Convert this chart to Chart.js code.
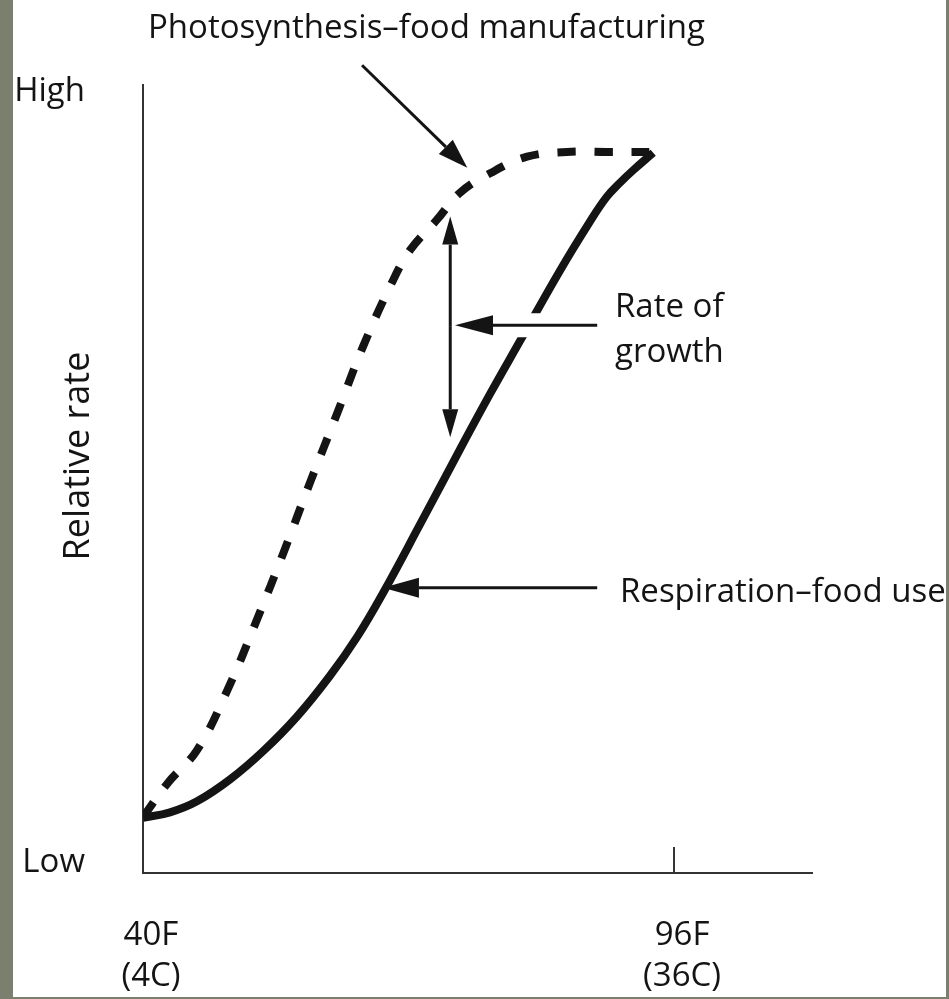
<!DOCTYPE html>
<html>
<head>
<meta charset="utf-8">
<script src="https://cdn.jsdelivr.net/npm/chart.js@4.4.0/dist/chart.umd.min.js"></script>
<style>
  html, body { margin: 0; padding: 0; }
  body { width: 949px; height: 999px; background: #7b806e; position: relative; overflow: hidden; }
  #wrap { position: absolute; left: 13px; top: 0; width: 933px; height: 997px; background: #fff; }
</style>
</head>
<body>
<div id="wrap"><canvas id="growthChart" width="933" height="997"></canvas></div>
<script>
// temperature (F) and relative rate (0 = low, 100 = high)
const photoTemp = [40, 42.6, 45.7, 48.9, 52.0, 54.8, 57.6, 60.5, 63.2, 66.4, 68.2, 71.0, 73.4, 76.6, 80.5, 84.7, 88.9, 93.8];
const photoRate = [7.1, 11.4, 15.6, 23.2, 32.1, 40.6, 49.5, 58.4, 66.8, 75.3, 79.1, 82.9, 86.3, 88.8, 90.9, 91.5, 91.5, 91.5];

const respTemp = [40, 42.85, 45.7, 49.2, 52.7, 56.2, 59.7, 62.6, 65.3, 69.2, 73.4, 76.6, 79.8, 84.0, 87.1, 88.9, 90.3, 91.7, 93.8];
const respRate = [7.0, 7.7, 9.1, 11.9, 15.5, 19.8, 25.0, 30.0, 35.5, 44.2, 53.7, 60.8, 67.6, 76.5, 82.6, 85.8, 87.6, 89.2, 91.4];

const xTickValues = [40, 96];
const xTickLabels = [['40F', '(4C)'], ['96F', '(36C)']];
const yTickValues = [1.3, 99.1];
const yTickLabels = ['Low', 'High'];

const FONT = '"Open Sans", Lato, sans-serif';
const INK = '#141414';

function toPoints(xs, ys) {
  return xs.map((x, i) => ({ x: x, y: ys[i] }));
}

function arrow(ctx, x1, y1, x2, y2, len, half) {
  const a = Math.atan2(y2 - y1, x2 - x1);
  const bx = x2 - Math.cos(a) * len, by = y2 - Math.sin(a) * len;
  ctx.beginPath();
  ctx.moveTo(x1, y1);
  ctx.lineTo(bx, by);
  ctx.stroke();
  ctx.beginPath();
  ctx.moveTo(x2, y2);
  ctx.lineTo(bx + Math.sin(a) * half, by - Math.cos(a) * half);
  ctx.lineTo(bx - Math.sin(a) * half, by + Math.cos(a) * half);
  ctx.closePath();
  ctx.fill();
}

// arrows + labels
const notes = {
  id: 'notes',
  afterDatasetsDraw(chart) {
    const { ctx, scales: { x, y } } = chart;
    ctx.save();

    // small tick at 96F, drawn upward from the axis
    const tx = x.getPixelForValue(96);
    ctx.strokeStyle = '#333';
    ctx.lineWidth = 2;
    ctx.beginPath();
    ctx.moveTo(tx, y.bottom - 26);
    ctx.lineTo(tx, y.bottom);
    ctx.stroke();

    // white gap where the growth arrow crosses the respiration curve
    ctx.strokeStyle = '#fff';
    ctx.lineWidth = 24;
    ctx.beginPath();
    ctx.moveTo(x.getPixelForValue(78.5), y.getPixelForValue(69.5));
    ctx.lineTo(x.getPixelForValue(82), y.getPixelForValue(69.5));
    ctx.stroke();

    ctx.strokeStyle = INK;
    ctx.fillStyle = INK;
    ctx.lineWidth = 3;
    // photosynthesis pointer
    arrow(ctx, x.getPixelForValue(63.1), y.getPixelForValue(102.5),
               x.getPixelForValue(74.2), y.getPixelForValue(89.5), 30, 10);
    // rate of growth pointer
    arrow(ctx, x.getPixelForValue(87.9), y.getPixelForValue(69.5),
               x.getPixelForValue(72.9), y.getPixelForValue(69.5), 38, 10);
    // respiration pointer
    arrow(ctx, x.getPixelForValue(87.9), y.getPixelForValue(36.2),
               x.getPixelForValue(65.3), y.getPixelForValue(36.2), 36, 10);
    // double arrow between the curves
    const gx = x.getPixelForValue(72.4);
    const gTop = y.getPixelForValue(83.3), gBot = y.getPixelForValue(55.3);
    const gMid = (gTop + gBot) / 2;
    arrow(ctx, gx, gMid, gx, gTop, 28, 8);
    arrow(ctx, gx, gMid, gx, gBot, 28, 8);

    // text
    ctx.font = '33px ' + FONT;
    ctx.textBaseline = 'alphabetic';
    ctx.textAlign = 'left';
    ctx.fillText('Photosynthesis–food manufacturing', 135, 38);
    ctx.fillText('Rate of', 602, 317);
    ctx.fillText('growth', 602, 362);
    ctx.fillText('Respiration–food use', 607, 602);

    ctx.font = '36px ' + FONT;
    ctx.translate(76, 456);
    ctx.rotate(-Math.PI / 2);
    ctx.textAlign = 'center';
    ctx.fillText('Relative rate', 0, 0);
    ctx.restore();
  }
};

const growthChart = new Chart(document.getElementById('growthChart'), {
  type: 'scatter',
  data: {
    datasets: [
      {
        label: 'Photosynthesis',
        data: toPoints(photoTemp, photoRate),
        showLine: true,
        borderColor: INK,
        borderWidth: 8,
        borderDash: [18, 19],
        borderCapStyle: 'butt',
        tension: 0.4,
        pointRadius: 0,
        fill: false
      },
      {
        label: 'Respiration',
        data: toPoints(respTemp, respRate),
        showLine: true,
        borderColor: INK,
        borderWidth: 8,
        borderCapStyle: 'butt',
        tension: 0.4,
        pointRadius: 0,
        fill: false
      }
    ]
  },
  options: {
    responsive: false,
    animation: false,
    layout: { padding: { top: 85, right: 134, left: 0, bottom: 0 } },
    plugins: { legend: { display: false }, tooltip: { enabled: false } },
    scales: {
      x: {
        type: 'linear',
        min: 40,
        max: 110.55,
        grid: { display: false, drawTicks: false },
        border: { display: true, color: '#333', width: 2 },
        afterBuildTicks: (s) => { s.ticks = xTickValues.map(v => ({ value: v })); },
        afterFit: (s) => { s.height = 124; },
        ticks: {
          autoSkip: false,
          maxRotation: 0,
          padding: 42,
          labelOffset: 8,
          color: INK,
          font: { family: FONT, size: 33, lineHeight: 1.25 },
          callback: (v) => xTickLabels[xTickValues.indexOf(v)]
        }
      },
      y: {
        type: 'linear',
        min: 0,
        max: 100,
        grid: { display: false, drawTicks: false },
        border: { display: true, color: '#333', width: 2 },
        afterBuildTicks: (s) => { s.ticks = yTickValues.map(v => ({ value: v })); },
        afterFit: (s) => { s.width = 130; },
        ticks: {
          autoSkip: false,
          padding: 58,
          color: INK,
          font: { family: FONT, size: 33 },
          callback: (v) => yTickLabels[yTickValues.indexOf(v)]
        }
      }
    }
  },
  plugins: [notes]
});
</script>
</body>
</html>
